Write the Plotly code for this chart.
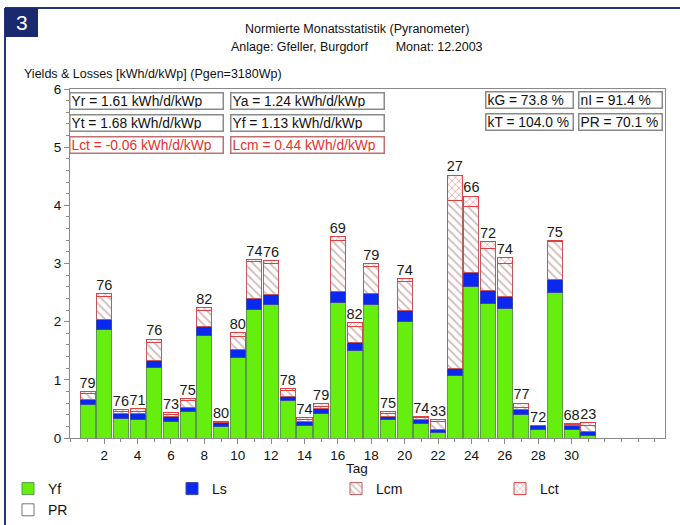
import plotly.graph_objects as go

days = list(range(1, 32))
yf  = [0.58, 1.86, 0.34, 0.32, 1.22, 0.29, 0.46, 1.76, 0.19, 1.39, 2.21, 2.30, 0.64, 0.22, 0.42, 2.33,
       1.51, 2.30, 0.31, 2.01, 0.25, 0.09, 1.08, 2.61, 2.31, 2.23, 0.40, 0.15, 2.51, 0.15, 0.05]
ls  = [0.09, 0.17, 0.08, 0.10, 0.11, 0.08, 0.07, 0.15, 0.08, 0.14, 0.18, 0.17, 0.08, 0.07, 0.08, 0.19,
       0.13, 0.19, 0.06, 0.18, 0.07, 0.06, 0.12, 0.23, 0.22, 0.20, 0.09, 0.06, 0.22, 0.06, 0.06]
lcm = [0.09, 0.41, 0.04, 0.04, 0.32, 0.04, 0.11, 0.29, 0.00, 0.22, 0.64, 0.53, 0.09, 0.03, 0.05, 0.87,
       0.27, 0.45, 0.05, 0.50, 0.03, 0.13, 2.89, 1.14, 0.73, 0.57, 0.04, 0.00, 0.64, 0.02, 0.11]
lct = [0.04, 0.05, 0.03, 0.04, 0.05, 0.03, 0.04, 0.05, 0.01, 0.06, 0.04, 0.05, 0.04, 0.03, 0.04, 0.07,
       0.07, 0.06, 0.03, 0.05, 0.02, 0.04, 0.43, 0.18, 0.11, 0.10, 0.07, 0.01, 0.03, 0.02, 0.04]
pr  = [79, 76, 76, 71, 76, 73, 75, 82, 80, 80, 74, 76, 78, 74, 79, 69,
       82, 79, 75, 74, 74, 33, 27, 66, 72, 74, 77, 72, 75, 68, 23]
x_ticks = list(range(2, 31, 2))
info_left = [["Yr = 1.61 kWh/d/kWp", "Ya = 1.24 kWh/d/kWp"],
             ["Yt = 1.68 kWh/d/kWp", "Yf = 1.13 kWh/d/kWp"],
             ["Lct = -0.06 kWh/d/kWp", "Lcm = 0.44 kWh/d/kWp"]]
info_right = [["kG = 73.8 %", "nI = 91.4 %"],
              ["kT = 104.0 %", "PR = 70.1 %"]]

totals = [a + b + c + d for a, b, c, d in zip(yf, ls, lcm, lct)]

FONT = "Liberation Sans, Arial, sans-serif"
W_FIG, H_FIG = 680, 525
L, R, T, B = 70, 665, 89, 438
PW, PH = R - L, B - T

def PX(px):
    return (px - L) / PW

def PY(py):
    return (B - py) / PH

fig = go.Figure()
fig.add_trace(go.Bar(name="Yf", x=days, y=yf,
                     marker=dict(color="#66ee0e", line=dict(color="#5a9a4a", width=1))))
fig.add_trace(go.Bar(name="Ls", x=days, y=ls,
                     marker=dict(color="#0a28f0", line=dict(color="#3a4aa0", width=1))))
fig.add_trace(go.Bar(name="Lcm", x=days, y=lcm,
                     marker=dict(color="white", line=dict(color="#c05a5a", width=1),
                                 pattern=dict(shape="\\", fgcolor="#a87070", bgcolor="white",
                                              size=6, solidity=0.3))))
fig.add_trace(go.Bar(name="Lct", x=days, y=lct,
                     marker=dict(color="white", line=dict(color="#e04040", width=1),
                                 pattern=dict(shape="x", fgcolor="#e05050", bgcolor="white",
                                              size=5, solidity=0.3))))
fig.add_trace(go.Bar(name="PR", x=[None], y=[None],
                     marker=dict(color="white", line=dict(color="#777777", width=1))))
fig.add_trace(go.Scatter(x=days, y=totals, mode="text", text=[str(v) for v in pr],
                         textposition="top center", showlegend=False, cliponaxis=False,
                         textfont=dict(family=FONT, size=14.5, color="#1a1a1a")))

ann = []
ann.append(dict(text="Normierte Monatsstatistik (Pyranometer)", x=PX(357), y=PY(29),
                xanchor="center", yanchor="middle", font=dict(size=12.5)))
ann.append(dict(text="Anlage: Gfeller, Burgdorf\u00a0\u00a0\u00a0\u00a0\u00a0\u00a0\u00a0\u00a0Monat: 12.2003",
                x=PX(357), y=PY(47), xanchor="center", yanchor="middle", font=dict(size=12.5)))
ann.append(dict(text="Yields & Losses [kWh/d/kWp] (Pgen=3180Wp)", x=PX(22), y=PY(74),
                xanchor="left", yanchor="middle", font=dict(size=12.5)))
ann.append(dict(text="Tag", x=PX(357), y=PY(468), xanchor="center", yanchor="middle",
                font=dict(size=13.5)))
ann.append(dict(text="3", x=PX(21.5), y=PY(23), xanchor="center", yanchor="middle",
                font=dict(size=21, color="white")))

lx = [69, 230]
ly = [92, 114, 136]
for r, row in enumerate(info_left):
    for c, txt in enumerate(row):
        red = (r == 2)
        ann.append(dict(text=txt, x=PX(lx[c]), y=PY(ly[r]), xanchor="left", yanchor="top",
                        width=150, height=13, align="left", bgcolor="white",
                        bordercolor="#c07070" if red else "#8a8a8a", borderwidth=1.5, borderpad=1,
                        font=dict(size=13.8, color="#e8312f" if red else "#111111")))
rx = [485, 578]
rw = [84, 80]
ry = [91, 113]
for r, row in enumerate(info_right):
    for c, txt in enumerate(row):
        ann.append(dict(text=txt, x=PX(rx[c]), y=PY(ry[r]), xanchor="left", yanchor="top",
                        width=rw[c], height=13, align="left", bgcolor="white",
                        bordercolor="#8a8a8a", borderwidth=1.5, borderpad=1,
                        font=dict(size=13.8, color="#111111")))

for a in ann:
    a.setdefault("xref", "paper")
    a.setdefault("yref", "paper")
    a.setdefault("showarrow", False)
    a["font"].setdefault("family", FONT)
    a["font"].setdefault("color", "#111111")

navy = "#22357a"
shapes = [
    dict(type="line", xref="paper", yref="paper", x0=PX(5), x1=PX(680), y0=PY(8), y1=PY(8),
         line=dict(color=navy, width=2)),
    dict(type="line", xref="paper", yref="paper", x0=PX(5), x1=PX(5), y0=PY(8), y1=PY(525),
         line=dict(color=navy, width=2)),
    dict(type="rect", xref="paper", yref="paper", x0=PX(5), x1=PX(38), y0=PY(8), y1=PY(37),
         fillcolor="#1b2a6e", line=dict(width=0)),
]

axis_common = dict(showline=True, linecolor="#8a8a8a", linewidth=1, mirror=True,
                   ticks="outside", tickcolor="#8a8a8a", ticklen=5, showgrid=False, zeroline=False,
                   tickfont=dict(family=FONT, size=13.5, color="#111111"))

fig.update_layout(
    width=W_FIG, height=H_FIG,
    margin=dict(l=L, r=W_FIG - R, t=T, b=H_FIG - B, autoexpand=False),
    paper_bgcolor="white", plot_bgcolor="white",
    barmode="stack", bargap=0.1,
    font=dict(family=FONT, size=12, color="#111111"),
    xaxis=dict(range=[-0.05, 35.6], tickvals=x_ticks, ticktext=[str(v) for v in x_ticks],
               minor=dict(dtick=1, tick0=0, ticks="outside", ticklen=3, tickcolor="#8a8a8a"),
               **axis_common),
    yaxis=dict(range=[0, 6], dtick=1,
               minor=dict(dtick=0.2, ticks="outside", ticklen=3, tickcolor="#8a8a8a"),
               **axis_common),
    legend=dict(orientation="h", x=PX(8), y=PY(473), xanchor="left", yanchor="top",
                entrywidth=119, entrywidthmode="pixels", traceorder="normal",
                font=dict(family=FONT, size=14, color="#111111"), bgcolor="rgba(0,0,0,0)"),
    annotations=ann, shapes=shapes,
)

fig.write_html("out.html", post_script="document.body.style.margin='0px';",
               config={"displayModeBar": False})
